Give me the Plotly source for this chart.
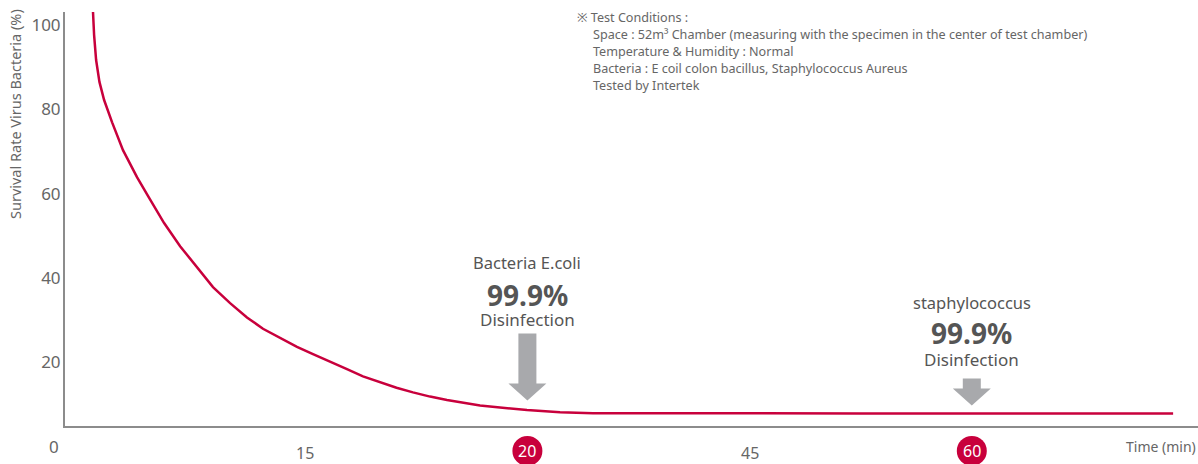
import plotly.graph_objects as go

# ---- data ----
# x positions are evenly spaced category slots (slot 1..4 -> labels 15, 20, 45, 60)
curve_x = [0.045, 0.050, 0.059, 0.074, 0.095, 0.131, 0.180, 0.243, 0.293, 0.365,
           0.437, 0.512, 0.585, 0.662, 0.738, 0.810, 0.887, 0.963, 1.035, 1.112,
           1.188, 1.260, 1.337, 1.411, 1.485, 1.562, 1.638, 1.787, 1.998, 2.147,
           2.295, 2.597, 3.5, 4.906]
curve_y = [103.1, 97.6, 91.7, 86.5, 82.2, 76.9, 70.3, 63.9, 59.4, 53.0,
           47.5, 42.5, 37.8, 34.0, 30.6, 27.9, 25.7, 23.6, 21.9, 20.0,
           18.3, 16.6, 15.2, 13.9, 12.8, 11.8, 11.0, 9.7, 8.6, 8.1,
           7.85, 7.8, 7.8, 7.8]

tick_pos = [1, 2, 3, 4]
tick_labels = ["15", "20", "45", "60"]
tick_highlight = [False, True, False, True]
y_ticks = [20, 40, 60, 80, 100]

markers = [
    {"x": 2, "tip": 10.9, "lines": ["Bacteria E.coli", "99.9%", "Disinfection"], "shaft": 67, "label_y": [43.6, 36.0, 30.0]},
    {"x": 4, "tip": 9.7, "lines": ["staphylococcus", "99.9%", "Disinfection"], "shaft": 27, "label_y": [34.2, 26.9, 20.7]},
]

conditions_title = "※ Test Conditions :"
conditions = [
    "Space : 52m³ Chamber (measuring with the specimen in the center of test chamber)",
    "Temperature & Humidity : Normal",
    "Bacteria : E coil colon bacillus, Staphylococcus Aureus",
    "Tested by Intertek",
]

X_RANGE = [-0.081, 5.018]
Y_RANGE = [4.82, 103.1]

RED = "#c8003c"
GRAY_TXT = "#666666"
DARK_TXT = "#555555"
AXIS = "#8c8c8c"
ARROW = "#a8a9ac"
FONT = "Noto Sans"


def xp(v):
    return (v - X_RANGE[0]) / (X_RANGE[1] - X_RANGE[0])


def yp(v):
    return (v - Y_RANGE[0]) / (Y_RANGE[1] - Y_RANGE[0])


fig = go.Figure()

fig.add_trace(go.Scatter(
    x=curve_x, y=curve_y, mode="lines",
    line=dict(color=RED, width=2.5, shape="linear"),
    hoverinfo="skip", showlegend=False,
))

shapes = []
annotations = []

# x tick labels (plain and highlighted in red circles)
for p, lab, hi in zip(tick_pos, tick_labels, tick_highlight):
    if hi:
        shapes.append(dict(type="circle", xref="paper", yref="paper",
                           xsizemode="pixel", ysizemode="pixel",
                           xanchor=xp(p), yanchor=yp(-1.1),
                           x0=-15, x1=15, y0=-15, y1=15,
                           fillcolor=RED, line=dict(width=0)))
        annotations.append(dict(x=xp(p), y=yp(-1.1), xref="paper", yref="paper", text=lab,
                                showarrow=False, xanchor="center", yanchor="middle",
                                font=dict(family=FONT, size=16, color="white")))
    else:
        annotations.append(dict(x=xp(p), y=yp(-1.7), xref="paper", yref="paper", text=lab,
                                showarrow=False, xanchor="center", yanchor="middle",
                                font=dict(family=FONT, size=16, color=GRAY_TXT)))

for m in markers:
    s = m["shaft"]
    path = f"M -9,{s} L 9,{s} L 9,17 L 19,17 L 0,0 L -19,17 L -9,17 Z"
    shapes.append(dict(
        type="path", xref="x", yref="y", xsizemode="pixel", ysizemode="pixel",
        xanchor=m["x"], yanchor=m["tip"], path=path,
        fillcolor=ARROW, line=dict(width=0),
    ))
    sizes = [16.5, 28, 17]
    for txt, yy, sz in zip(m["lines"], m["label_y"], sizes):
        t = f"<b>{txt}</b>" if "%" in txt else txt
        annotations.append(dict(
            x=m["x"], y=yy, xref="x", yref="y", text=t, showarrow=False,
            font=dict(family=FONT, size=sz, color=DARK_TXT),
            xanchor="center", yanchor="middle",
        ))

# y=0 label
annotations.append(dict(x=0, y=yp(0), xref="paper", yref="paper", text="0", showarrow=False,
                        xanchor="right", yanchor="middle", xshift=-4,
                        font=dict(family=FONT, size=17, color=GRAY_TXT)))
# x axis title
annotations.append(dict(x=xp(4.85), y=yp(0), xref="paper", yref="paper", text="Time (min)",
                        showarrow=False, xanchor="center", yanchor="middle",
                        font=dict(family=FONT, size=14, color=GRAY_TXT)))
# y axis title
annotations.append(dict(x=-0.0441, y=1.0 + 5 / 413.7, xref="paper", yref="paper",
                        text="Survival Rate Virus Bacteria (%)", textangle=-90,
                        showarrow=False, xanchor="center", yanchor="top",
                        font=dict(family=FONT, size=14.5, color=GRAY_TXT)))
# test conditions (one annotation per line, 17px apart)
annotations.append(dict(x=(575 - 65) / 1133, y=1.0 - (17 - 12) / 413.7, xref="paper", yref="paper",
                        text=conditions_title, showarrow=False, xanchor="left", yanchor="middle",
                        font=dict(family=FONT, size=12.6, color=GRAY_TXT)))
for i, line in enumerate(conditions):
    cy = 34 + 17 * i
    annotations.append(dict(x=(591 - 65) / 1133, y=1.0 - (cy - 12) / 413.7, xref="paper", yref="paper",
                            text=line, showarrow=False, xanchor="left", yanchor="middle",
                            font=dict(family=FONT, size=12.6, color=GRAY_TXT)))

fig.update_layout(
    width=1198, height=464,
    margin=dict(l=65, r=0, t=12, b=38),
    paper_bgcolor="white", plot_bgcolor="white",
    shapes=shapes, annotations=annotations,
    showlegend=False,
    xaxis=dict(range=X_RANGE, showline=True, linecolor=AXIS, linewidth=2,
               showgrid=False, zeroline=False, showticklabels=False, ticks=""),
    yaxis=dict(range=Y_RANGE, showline=True, linecolor=AXIS, linewidth=2,
               showgrid=False, zeroline=False, tickvals=y_ticks, ticks="",
               ticklabelstandoff=-1,
               tickfont=dict(family=FONT, size=17, color=GRAY_TXT)),
)

fig.write_html("out.html", config={"displayModeBar": False},
               post_script="document.body.style.margin='0';document.body.style.overflow='hidden';")
